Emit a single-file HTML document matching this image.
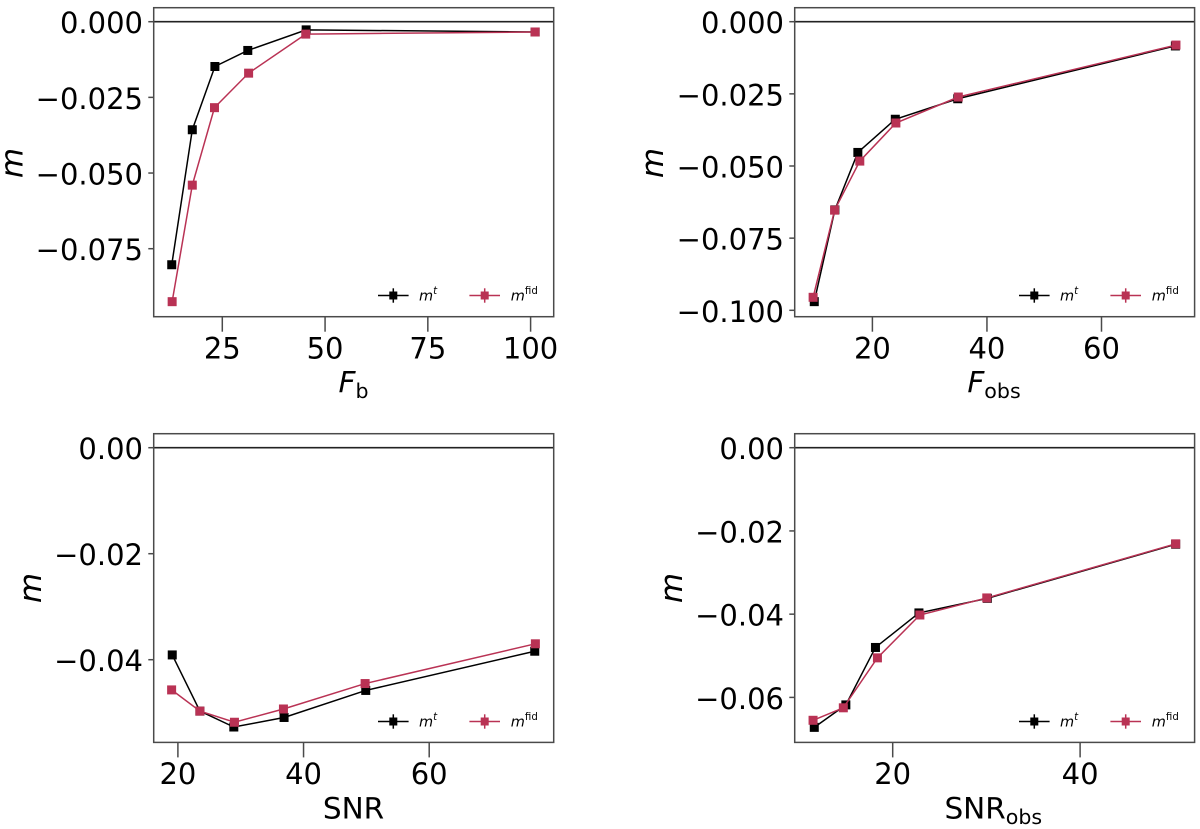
<!DOCTYPE html>
<html lang="en">
<head>
<meta charset="utf-8">
<title>m vs flux and SNR</title>
<style>
html,body{margin:0;padding:0;background:#fff;}
svg{display:block;filter:blur(0.35px);}
text{font-family:"DejaVu Sans","Liberation Sans",sans-serif;fill:#000;}
.tick{font-size:29px;}
.axis{font-size:29.5px;}
.ytitle{font-size:31px;font-style:italic;}
.math{font-style:italic;}
.leg{font-size:14.5px;}
</style>
</head>
<body>
<svg id="chart" xmlns="http://www.w3.org/2000/svg" width="1200" height="829" viewBox="0 0 1200 829"></svg>
<script>
// Panel A: F_b
const fbXTrue = [12.7, 17.7, 23.2, 31.2, 45.4, 101.1];
const fbYTrue = [-0.0803, -0.0357, -0.0148, -0.0095, -0.0027, -0.0034];
const fbXFid = [12.8, 17.7, 23.1, 31.4, 45.3, 101.1];
const fbYFid = [-0.0925, -0.054, -0.0284, -0.017, -0.0041, -0.0034];
const fbXTicks = [25, 50, 75, 100];
const fbYTicks = [0, -0.025, -0.05, -0.075];
const fbYLabels = ["0.000", "\u22120.025", "\u22120.050", "\u22120.075"];

// Panel B: F_obs
const fobsXTrue = [9.85, 13.45, 17.46, 24.0, 34.9, 72.9];
const fobsYTrue = [-0.097, -0.0652, -0.0453, -0.0338, -0.0267, -0.0084];
const fobsXFid = [9.65, 13.4, 17.8, 24.1, 35.0, 73.0];
const fobsYFid = [-0.0955, -0.0653, -0.0483, -0.0351, -0.0261, -0.0081];
const fobsXTicks = [20, 40, 60];
const fobsYTicks = [0, -0.025, -0.05, -0.075, -0.1];
const fobsYLabels = ["0.000", "\u22120.025", "\u22120.050", "\u22120.075", "\u22120.100"];

// Panel C: SNR
const snrXTrue = [19.1, 23.5, 28.9, 36.9, 49.9, 76.8];
const snrYTrue = [-0.0391, -0.0497, -0.0527, -0.0509, -0.0458, -0.0384];
const snrXFid = [19.0, 23.5, 29.0, 36.8, 49.8, 76.9];
const snrYFid = [-0.0457, -0.0497, -0.0518, -0.0493, -0.0445, -0.037];
const snrXTicks = [20, 40, 60];
const snrYTicks = [0, -0.02, -0.04];
const snrYLabels = ["0.00", "\u22120.02", "\u22120.04"];

// Panel D: SNR_obs
const snrobsXTrue = [11.63, 15.0, 18.16, 22.8, 30.1, 50.2];
const snrobsYTrue = [-0.0672, -0.0618, -0.048, -0.0397, -0.0362, -0.0232];
const snrobsXFid = [11.5, 14.73, 18.37, 22.9, 30.04, 50.2];
const snrobsYFid = [-0.0655, -0.0625, -0.0505, -0.0402, -0.0361, -0.0231];
const snrobsXTicks = [20, 40];
const snrobsYTicks = [0, -0.02, -0.04, -0.06];
const snrobsYLabels = ["0.00", "\u22120.02", "\u22120.04", "\u22120.06"];

const NS = "http://www.w3.org/2000/svg";
const svg = document.getElementById("chart");
const RED = "#b93254";
const FRAME = "#4a4a4a";

function make(tag, parent) {
  const el = document.createElementNS(NS, tag);
  parent.appendChild(el);
  return el;
}
function line(parent, x1, y1, x2, y2, color, w) {
  const el = make("line", parent);
  el.setAttribute("x1", x1);
  el.setAttribute("y1", y1);
  el.setAttribute("x2", x2);
  el.setAttribute("y2", y2);
  el.setAttribute("stroke", color);
  el.setAttribute("stroke-width", w);
  return el;
}
function marker(parent, cx, cy, color, s) {
  const el = make("rect", parent);
  el.setAttribute("x", cx - s / 2);
  el.setAttribute("y", cy - s / 2);
  el.setAttribute("width", s);
  el.setAttribute("height", s);
  el.setAttribute("fill", color);
  return el;
}
function label(parent, x, y, cls, anchor, str) {
  const el = make("text", parent);
  el.setAttribute("x", x);
  el.setAttribute("y", y);
  el.setAttribute("class", cls);
  el.setAttribute("text-anchor", anchor);
  el.textContent = str;
  return el;
}
function span(parent, str, size, dy, italic) {
  const t = make("tspan", parent);
  t.textContent = str;
  if (size) t.setAttribute("font-size", size);
  if (dy) t.setAttribute("dy", dy);
  if (italic) t.setAttribute("font-style", "italic");
  return t;
}
// Linear axis function built from two calibration values
function scale(v0, p0, v1, p1) {
  return function (v) { return p0 + (v - v0) * (p1 - p0) / (v1 - v0); };
}

function series(group, xs, ys, sx, sy, color, lw, seriesName) {
  const pl = make("polyline", group);
  
  
  pl.setAttribute("points", xs.map(function (v, i) { return sx(v).toFixed(2) + "," + sy(ys[i]).toFixed(2); }).join(" "));
  pl.setAttribute("fill", "none");
  pl.setAttribute("stroke", color);
  pl.setAttribute("stroke-width", lw);
  xs.forEach(function (v, i) {
    const m = marker(group, sx(v), sy(ys[i]), color, 9);
    
    
  });
}

function legend(parent, dx, dy) {
  const g = make("g", parent);
  
  
  g.setAttribute("transform", "translate(" + dx + "," + dy + ")");

  const e1 = make("g", g);
  
  
  line(e1, 378, 295.5, 408.6, 295.5, "#000", 1.5);
  line(e1, 393.3, 288.3, 393.3, 302.7, "#000", 1.5);
  marker(e1, 393.3, 295.5, "#000", 8);
  const t1 = label(e1, 419, 300.5, "leg math", "start", "m");
  span(t1, "t", "10.2px", "-6.5");

  const e2 = make("g", g);
  
  
  line(e2, 469.4, 295.5, 500, 295.5, RED, 1.5);
  line(e2, 484.7, 288.3, 484.7, 302.7, RED, 1.5);
  marker(e2, 484.7, 295.5, RED, 8);
  const t2 = label(e2, 510.8, 300.5, "leg math", "start", "m");
  const t2s = span(t2, "fid", "10.2px", "-6.5");
  t2s.setAttribute("font-style", "normal");
}

function panel(cfg) {
  const g = make("g", svg);
  
  

  const sx = scale(cfg.xA[0], cfg.xA[1], cfg.xA[2], cfg.xA[3]);
  const sy = scale(cfg.yA[0], cfg.yA[1], cfg.yA[2], cfg.yA[3]);

  // y ticks
  cfg.yTicks.forEach(function (v, i) {
    const tk = line(g, cfg.l - 5.4, sy(v), cfg.l, sy(v), FRAME, 1.5);
    
    
    const tl = label(g, cfg.l - 10.7, sy(v) + 11.5, "tick", "end", cfg.yLabels[i]);
    
    
  });
  // x ticks
  cfg.xTicks.forEach(function (v) {
    const tk = line(g, sx(v), cfg.b, sx(v), cfg.b + 15, FRAME, 1.5);
    
    
    const tl = label(g, sx(v), cfg.b + 41.6, "tick", "middle", String(v));
    
    
  });

  // series
  series(g, cfg.xT, cfg.yT, sx, sy, "#000", 1.5, "series-m-t");
  series(g, cfg.xF, cfg.yF, sx, sy, RED, 1.5, "series-m-fid");

  // zero line
  const zero = line(g, cfg.l, sy(0), cfg.r, sy(0), "#222", 1.6);
  
  

  // frame
  const fr = make("rect", g);
  
  
  fr.setAttribute("x", cfg.l);
  fr.setAttribute("y", cfg.t);
  fr.setAttribute("width", cfg.r - cfg.l);
  fr.setAttribute("height", cfg.b - cfg.t);
  fr.setAttribute("fill", "none");
  fr.setAttribute("stroke", FRAME);
  fr.setAttribute("stroke-width", 1.5);

  // y axis title
  const yt = label(g, 0, 0, "ytitle", "middle", "m");
  
  
  yt.setAttribute("transform", "translate(" + cfg.yTitleX + "," + cfg.yTitleY + ") rotate(-90)");

  // x axis title
  const xt = label(g, cfg.xTitleX, cfg.xTitleY, "axis", "middle", "");
  
  
  span(xt, cfg.xMain, null, null, cfg.xItalic);
  if (cfg.xSub) {
    span(xt, cfg.xSub, "20.6px", "5.5");
  }

  legend(g, cfg.legDx, cfg.legDy);
}

panel({
  name: "panel-f-b", l: 153.7, r: 553.7, t: 7.7, b: 316.7,
  xA: [25, 222.3, 100, 530.6], yA: [0, 21.7, -0.075, 248.7],
  xT: fbXTrue, yT: fbYTrue, xF: fbXFid, yF: fbYFid,
  xTicks: fbXTicks, yTicks: fbYTicks, yLabels: fbYLabels,
  yTitleX: 22.7, yTitleY: 163, xTitleX: 353.5, xTitleY: 392.7,
  xMain: "F", xItalic: true, xSub: "b", legDx: 0, legDy: 0
});
panel({
  name: "panel-f-obs", l: 794.7, r: 1194.6, t: 7.7, b: 316.7,
  xA: [20, 872.4, 60, 1101.5], yA: [0, 21.7, -0.1, 310.3],
  xT: fobsXTrue, yT: fobsYTrue, xF: fobsXFid, yF: fobsYFid,
  xTicks: fobsXTicks, yTicks: fobsYTicks, yLabels: fobsYLabels,
  yTitleX: 663, yTitleY: 163, xTitleX: 994, xTitleY: 392.7,
  xMain: "F", xItalic: true, xSub: "obs", legDx: 641, legDy: 0
});
panel({
  name: "panel-snr", l: 153.7, r: 553.7, t: 433.7, b: 742.4,
  xA: [20, 177.9, 60, 429.2], yA: [0, 447.7, -0.04, 659.7],
  xT: snrXTrue, yT: snrYTrue, xF: snrXFid, yF: snrYFid,
  xTicks: snrXTicks, yTicks: snrYTicks, yLabels: snrYLabels,
  yTitleX: 41, yTitleY: 588, xTitleX: 353.5, xTitleY: 818.3,
  xMain: "SNR", xItalic: false, xSub: "", legDx: 0, legDy: 426
});
panel({
  name: "panel-snr-obs", l: 794.7, r: 1194.6, t: 433.7, b: 742.4,
  xA: [20, 892.7, 40, 1080.1], yA: [0, 447.7, -0.06, 697.4],
  xT: snrobsXTrue, yT: snrobsYTrue, xF: snrobsXFid, yF: snrobsYFid,
  xTicks: snrobsXTicks, yTicks: snrobsYTicks, yLabels: snrobsYLabels,
  yTitleX: 682.2, yTitleY: 588, xTitleX: 993.3, xTitleY: 818.3,
  xMain: "SNR", xItalic: false, xSub: "obs", legDx: 641, legDy: 426
});
</script>
</body>
</html>
